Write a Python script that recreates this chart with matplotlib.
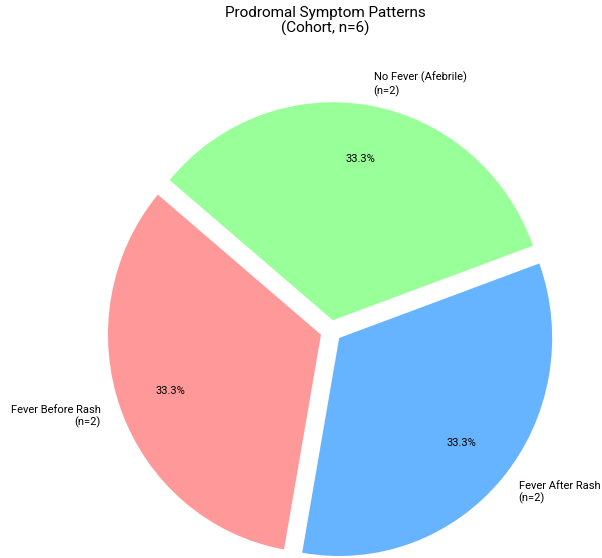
import matplotlib.pyplot as plt

plt.rcParams['font.family'] = ['Roboto', 'DejaVu Sans']

labels = ["Fever Before Rash\n(n=2)", "Fever After Rash\n(n=2)", "No Fever (Afebrile)\n(n=2)"]
counts = [2, 2, 2]
colors = ['#ff9999', '#66b3ff', '#99ff99']
explode = [0.05, 0.05, 0.05]

fig = plt.figure(figsize=(6.02, 5.58), dpi=100)
ax = fig.add_axes([0, 0, 1, 1])

ax.pie(counts, labels=labels, colors=colors, explode=explode, autopct='%1.1f%%',
       pctdistance=0.75, startangle=140, textprops={'fontsize': 8})

# put the pie centre where the reference has it
sx, sy = 213.0, 218.0
cx, cy = 331, 227
ax.set_aspect('auto')
ax.set_xlim(-cx / sx, (602 - cx) / sx)
ax.set_ylim(-cy / sy, (558 - cy) / sy)
ax.axis('off')

fig.text(0.54, 0.99, "Prodromal Symptom Patterns\n(Cohort, n=6)", ha='center', va='top',
         fontsize=11, linespacing=1.1)

fig.savefig("out.png", dpi=100)
